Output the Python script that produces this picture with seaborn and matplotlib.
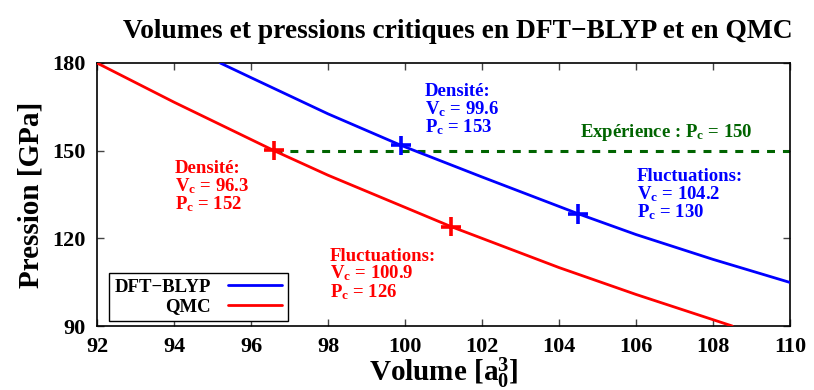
import numpy as np
import pandas as pd
import matplotlib
matplotlib.use("Agg")
import matplotlib.pyplot as plt
import seaborn as sns

# ---- data ----
blyp_v = [95.2, 96.0, 98.0, 99.9, 102.0, 104.5, 106.0, 108.0, 110.0]
blyp_p = [180.0, 175.0, 162.6, 151.8, 141.0, 128.4, 121.3, 112.8, 104.9]
qmc_v = [92.0, 94.0, 96.6, 98.0, 101.2, 104.0, 106.0, 108.5]
qmc_p = [180.0, 166.6, 150.0, 141.6, 124.0, 110.0, 100.8, 90.0]
blyp_crit_v = [99.9, 104.5]
blyp_crit_p = [151.8, 128.4]
qmc_crit_v = [96.6, 101.2]
qmc_crit_p = [150.1, 124.0]
exp_v = [96.6, 110.0]
exp_p = [150.0, 150.0]
series_names = ["DFT\u2212BLYP", "QMC"]
x_ticks = [92, 94, 96, 98, 100, 102, 104, 106, 108, 110]
y_ticks = [90, 120, 150, 180]

BLUE = "#0000ff"
RED = "#ff0000"
GREEN = "#006400"

sns.set_style("ticks")
plt.rcParams["font.family"] = ["Liberation Serif", "DejaVu Serif"]
plt.rcParams["font.weight"] = "bold"
plt.rcParams["mathtext.fontset"] = "custom"
plt.rcParams["mathtext.rm"] = "Liberation Serif:bold"
plt.rcParams["mathtext.bf"] = "Liberation Serif:bold"
plt.rcParams["mathtext.it"] = "Liberation Serif:bold"
plt.rcParams["mathtext.default"] = "rm"
for k in ["text.color", "axes.labelcolor", "xtick.color", "ytick.color", "axes.edgecolor"]:
    plt.rcParams[k] = "black"

fig, ax = plt.subplots(figsize=(8.14, 3.9), dpi=100)
fig.subplots_adjust(left=97/814, right=790/814, bottom=1-326/390, top=1-63/390)

curves = pd.DataFrame({
    "V": blyp_v + qmc_v,
    "P": blyp_p + qmc_p,
    "model": [series_names[0]] * len(blyp_v) + [series_names[1]] * len(qmc_v),
})
pal = {series_names[0]: BLUE, series_names[1]: RED}
sns.lineplot(data=curves, x="V", y="P", hue="model", palette=pal, lw=2.0,
             sort=False, estimator=None, ax=ax, legend=False, zorder=3)
line_handles = list(ax.lines[:2])

sns.lineplot(x=exp_v, y=exp_p, color=GREEN, lw=2.2, linestyle=(0, (2.6, 2.6)),
             ax=ax, zorder=2)

crit = pd.DataFrame({
    "V": blyp_crit_v + qmc_crit_v,
    "P": blyp_crit_p + qmc_crit_p,
    "model": [series_names[0]] * 2 + [series_names[1]] * 2,
})
sns.scatterplot(data=crit, x="V", y="P", hue="model", palette=pal, marker="+",
                s=200, linewidth=2.6, ax=ax, legend=False, zorder=5)

ax.set_xlim(92, 110)
ax.set_ylim(90, 180)
ax.set_xticks(x_ticks)
ax.set_yticks(y_ticks)
ax.tick_params(direction="in", length=5, width=1, top=True, right=True,
               labelsize=16, pad=8, color="#444444")
for s in ax.spines.values():
    s.set_visible(True)
    s.set_linewidth(1.2)
    s.set_color("black")

ax.set_xlabel("Volume [a$_0^3$]", fontsize=21, fontweight="bold", labelpad=-1)
ax.set_ylabel("Pression [GPa]", fontsize=21, fontweight="bold", labelpad=6)
ax.set_title("Volumes et pressions critiques en DFT\u2212BLYP et en QMC",
             fontsize=19.8, fontweight="bold", pad=18, color="black", x=0.52)


def block(x, y, text, color):
    ax.text(x, y, text, color=color, fontsize=13.5, fontweight="bold",
            va="top", ha="left", linespacing=0.92)


block(100.52, 173.1, "Densité:\nV$_\\mathrm{c}$ = 99.6\nP$_\\mathrm{c}$ = 153", BLUE)
block(106.03, 143.9, "Fluctuations:\nV$_\\mathrm{c}$ = 104.2\nP$_\\mathrm{c}$ = 130", BLUE)
block(94.03, 146.7, "Densité:\nV$_\\mathrm{c}$ = 96.3\nP$_\\mathrm{c}$ = 152", RED)
block(98.05, 116.8, "Fluctuations:\nV$_\\mathrm{c}$ = 100.9\nP$_\\mathrm{c}$ = 126", RED)
block(104.55, 159.7, "Expérience : P$_\\mathrm{c}$ = 150", GREEN)

leg = ax.legend(line_handles, series_names, loc="lower left",
                bbox_to_anchor=(0.0173, 0.019), borderaxespad=0,
                markerfirst=False, frameon=True, fancybox=False,
                edgecolor="black", framealpha=1, handlelength=2.9,
                fontsize=13.5, labelspacing=0.12, borderpad=0.3,
                handletextpad=0.9)
leg.get_frame().set_linewidth(1.0)
for vp in leg._legend_handle_box.get_children():
    vp.align = "right"

fig.savefig("out.png", dpi=100)
